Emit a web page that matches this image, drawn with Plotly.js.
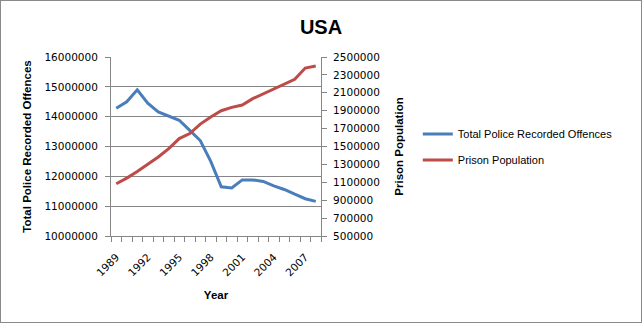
<!DOCTYPE html>
<html><head><meta charset="utf-8">
<script src="https://cdn.plot.ly/plotly-3.0.1.min.js"></script>
<style>body{margin:0;}#chart{width:640px;height:321px;border:1px solid #8a8a8a;}</style>
</head><body><div id="chart"></div>
<script>
const years = [1989,1990,1991,1992,1993,1994,1995,1996,1997,1998,1999,2000,2001,2002,2003,2004,2005,2006,2007,2008];
const offences = [14280000,14500000,14900000,14450000,14160000,14020000,13880000,13540000,13200000,12500000,11650000,11610000,11880000,11880000,11830000,11680000,11560000,11400000,11250000,11160000];
const prison = [1084000,1147000,1220000,1300000,1383000,1476000,1588000,1645000,1750000,1830000,1900000,1937000,1963000,2035000,2088000,2140000,2196000,2250000,2377000,2400000];
const yearTicks = [1989,1992,1995,1998,2001,2004,2007];
const leftTicks = [10000000,11000000,12000000,13000000,14000000,15000000,16000000];
const rightTicks = [500000,700000,900000,1100000,1300000,1500000,1700000,1900000,2100000,2300000,2500000];

const sans = 'Liberation Sans, Arial, sans-serif';
const tickFont = {family:'DejaVu Sans, Verdana, sans-serif', size:10.5, color:'#000'};
const titleFont = {family:sans, size:11.5, color:'#000'};
const traces = [
 {x:years, y:offences, name:'Total Police Recorded Offences', type:'scatter', mode:'lines', line:{color:'#4A7EBB', width:3}, yaxis:'y', legendgroup:'a'},
 {x:years, y:prison, name:'Prison Population', type:'scatter', mode:'lines', line:{color:'#BE4B48', width:3}, yaxis:'y2', legendgroup:'b'}
];
const boundaries = [];
for (let i = 0; i <= years.length; i++) boundaries.push(years[0] - 0.5 + i);
const layout = {
 width:640, height:321,
 margin:{l:110, r:320, t:56, b:86},
 paper_bgcolor:'#fff', plot_bgcolor:'#fff',
 font:{family:sans, size:11, color:'#000'},
 showlegend:true,
 title:{text:'<b>USA</b>', x:0.5, xref:'container', xanchor:'center', y:0.92, yref:'container', yanchor:'middle', font:{family:sans, size:20, color:'#000'}},
 legend:{x:1.461, xref:'paper', y:0.497, yanchor:'middle', font:{family:sans, size:11, color:'#000'}, bgcolor:'rgba(0,0,0,0)', tracegroupgap:7, itemwidth:30},
 xaxis:{range:[years[0]-0.5, years[years.length-1]+0.5], tickvals:yearTicks, ticktext:yearTicks.map(String), tickangle:-45,
   showline:true, linecolor:'#868686', linewidth:1, ticks:'', showgrid:false, zeroline:false, ticklabelstandoff:10,
   minor:{tickvals:boundaries, ticks:'outside', ticklen:5, tickcolor:'#868686', showgrid:false},
   title:{text:'<b>Year</b>', font:titleFont, standoff:13}, tickfont:tickFont},
 yaxis:{range:[10000000,16000000], tickvals:leftTicks, showline:true, linecolor:'#868686', ticks:'outside', ticklen:5, tickcolor:'#868686',
   showgrid:true, gridcolor:'#868686', gridwidth:1, zeroline:false, tickformat:'d', tickfont:tickFont, ticklabelstandoff:5,
   title:{text:'<b>Total Police Recorded Offences</b>', font:titleFont, standoff:10}},
 yaxis2:{range:[500000,2500000], tickvals:rightTicks, overlaying:'y', side:'right', showline:true, linecolor:'#868686', ticks:'outside', ticklen:5, tickcolor:'#868686',
   showgrid:false, zeroline:false, tickformat:'d', tickfont:tickFont, ticklabelstandoff:4,
   title:{text:'<b>Prison Population</b>', font:titleFont, standoff:16}}
};
Plotly.newPlot('chart', traces, layout, {displayModeBar:false, staticPlot:true});
</script></body></html>
